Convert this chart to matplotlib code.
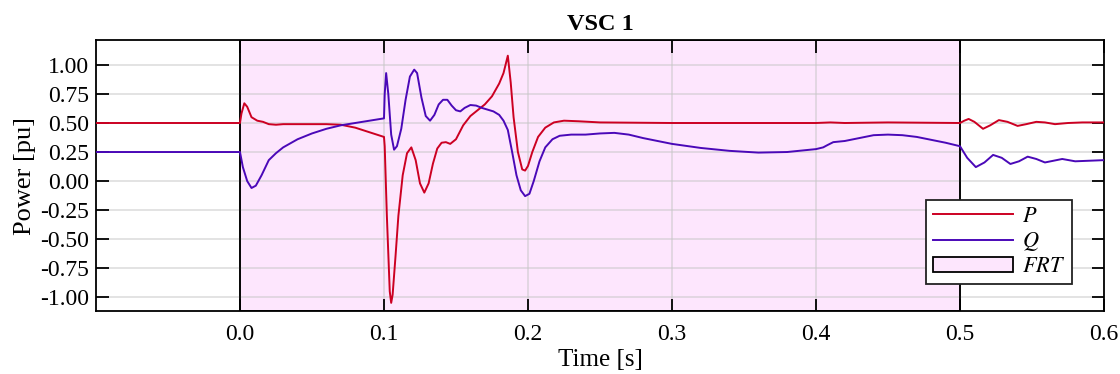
import matplotlib
matplotlib.use("Agg")
import matplotlib.pyplot as plt

plt.rcParams['font.family'] = ['Liberation Serif', 'DejaVu Serif']
plt.rcParams['mathtext.fontset'] = 'stix'

# --- data ---
t_p = [-0.1, 0.0, 0.001, 0.003, 0.005, 0.008, 0.012, 0.016, 0.02, 0.025, 0.03, 0.04,
       0.05, 0.06, 0.07, 0.08, 0.09, 0.1, 0.1005, 0.102, 0.104, 0.105, 0.106, 0.108,
       0.11, 0.113, 0.116, 0.119, 0.122, 0.125, 0.128, 0.131, 0.134, 0.137, 0.14,
       0.143, 0.146, 0.15, 0.155, 0.16, 0.165, 0.17, 0.175, 0.18, 0.183, 0.186,
       0.188, 0.19, 0.193, 0.196, 0.198, 0.2, 0.203, 0.207, 0.212, 0.218, 0.225,
       0.235, 0.25, 0.3, 0.35, 0.4, 0.41, 0.42, 0.45, 0.5, 0.503, 0.506, 0.51,
       0.516, 0.521, 0.527, 0.533, 0.54, 0.546, 0.553, 0.559, 0.566, 0.575, 0.585, 0.6]
p_val = [0.50, 0.50, 0.58, 0.67, 0.64, 0.55, 0.52, 0.51, 0.49, 0.485, 0.49, 0.49,
         0.49, 0.49, 0.485, 0.46, 0.42, 0.38, 0.30, -0.30, -0.95, -1.05, -0.98, -0.65,
         -0.30, 0.05, 0.24, 0.29, 0.18, -0.02, -0.10, -0.02, 0.15, 0.28, 0.33,
         0.335, 0.32, 0.36, 0.48, 0.56, 0.61, 0.66, 0.73, 0.84, 0.93, 1.08,
         0.85, 0.55, 0.25, 0.10, 0.09, 0.13, 0.25, 0.38, 0.46, 0.505, 0.52,
         0.515, 0.505, 0.50, 0.50, 0.50, 0.505, 0.50, 0.505, 0.50, 0.52, 0.535, 0.51,
         0.45, 0.48, 0.525, 0.51, 0.475, 0.49, 0.51, 0.505, 0.49, 0.50, 0.505, 0.505]

t_q = [-0.1, 0.0, 0.002, 0.005, 0.008, 0.011, 0.015, 0.02, 0.025, 0.03, 0.04, 0.05,
       0.06, 0.07, 0.08, 0.09, 0.1, 0.1005, 0.1015, 0.103, 0.105, 0.107, 0.109,
       0.112, 0.115, 0.118, 0.121, 0.123, 0.126, 0.129, 0.132, 0.135, 0.138, 0.141,
       0.144, 0.147, 0.15, 0.153, 0.156, 0.16, 0.164, 0.168, 0.172, 0.176, 0.18,
       0.183, 0.186, 0.189, 0.192, 0.195, 0.198, 0.201, 0.204, 0.208, 0.212, 0.217,
       0.222, 0.23, 0.24, 0.25, 0.26, 0.27, 0.28, 0.3, 0.32, 0.34, 0.36, 0.38, 0.4,
       0.405, 0.408, 0.412, 0.42, 0.43, 0.44, 0.45, 0.46, 0.47, 0.48, 0.49, 0.5,
       0.505, 0.511, 0.517, 0.523, 0.529, 0.535, 0.541, 0.547, 0.553, 0.559, 0.565,
       0.571, 0.58, 0.59, 0.6]
q_val = [0.25, 0.25, 0.12, 0.0, -0.06, -0.04, 0.05, 0.18, 0.24, 0.29, 0.36, 0.41,
         0.45, 0.48, 0.50, 0.52, 0.54, 0.75, 0.93, 0.75, 0.40, 0.27, 0.30,
         0.45, 0.70, 0.90, 0.96, 0.93, 0.72, 0.56, 0.52, 0.57, 0.66, 0.70,
         0.70, 0.65, 0.61, 0.60, 0.63, 0.655, 0.65, 0.63, 0.615, 0.60, 0.57,
         0.52, 0.44, 0.25, 0.05, -0.08, -0.13, -0.11, 0.0, 0.17, 0.29, 0.36,
         0.39, 0.40, 0.40, 0.41, 0.415, 0.40, 0.37, 0.32, 0.285, 0.26, 0.245, 0.25, 0.275,
         0.29, 0.31, 0.335, 0.345, 0.37, 0.395, 0.40, 0.395, 0.38, 0.355, 0.33, 0.30,
         0.20, 0.12, 0.16, 0.225, 0.20, 0.147, 0.17, 0.21, 0.19, 0.16, 0.175,
         0.19, 0.17, 0.175, 0.18]

frt_start, frt_end = 0.0, 0.5
x_ticks = [0.0, 0.1, 0.2, 0.3, 0.4, 0.5, 0.6]
y_ticks = [-1.0, -0.75, -0.5, -0.25, 0.0, 0.25, 0.5, 0.75, 1.0]

fig = plt.figure(figsize=(11.2, 3.74), dpi=100)
ax = fig.add_axes([0.0857, 0.1684, 0.9, 0.7246])

# FRT window: pink band, black boundaries drawn over the grid
ax.axvspan(frt_start, frt_end, facecolor='#fde6fd', edgecolor='black', linewidth=1.3,
           label='$FRT$', zorder=1)
ax.axvline(frt_start, color='black', linewidth=1.3, zorder=2)
ax.axvline(frt_end, color='black', linewidth=1.3, zorder=2)
ax.plot(t_p, p_val, color='#cc0022', linewidth=1.4, label='$P$', zorder=3)
ax.plot(t_q, q_val, color='#4a08b8', linewidth=1.4, label='$Q$', zorder=3)

ax.set_xlim(-0.1, 0.6)
ax.set_ylim(-1.12, 1.215)
ax.set_xticks(x_ticks)
ax.set_yticks(y_ticks)
ax.set_xticklabels(['0.0', '0.1', '0.2', '0.3', '0.4', '0.5', '0.6'])
ax.set_yticklabels(['%.2f' % v for v in y_ticks])
ax.tick_params(direction='in', length=9, width=1.3, top=True, right=True, labelsize=17)
ax.tick_params(axis='y', pad=5)
ax.tick_params(axis='x', pad=9)
ax.grid(True, color='#c8c8c8', alpha=0.6, linewidth=1.2)
for s in ax.spines.values():
    s.set_linewidth(1.3)

ax.set_title('VSC 1', fontsize=17.5, fontweight='bold', pad=7)
ax.set_xlabel('Time [s]', fontsize=18, labelpad=3)
ax.set_ylabel('Power [pu]', fontsize=19, labelpad=3)

h, l = ax.get_legend_handles_labels()
order = [1, 2, 0]
leg = ax.legend([h[i] for i in order], [l[i] for i in order], loc='lower right',
                bbox_to_anchor=(0.968, 0.1), borderaxespad=0, fontsize=16,
                fancybox=False, edgecolor='#222222', framealpha=1, handlelength=3.6,
                borderpad=0.3, labelspacing=0.15, handletextpad=0.4)
leg.get_frame().set_linewidth(1.3)

fig.savefig('out.png', dpi=100)
